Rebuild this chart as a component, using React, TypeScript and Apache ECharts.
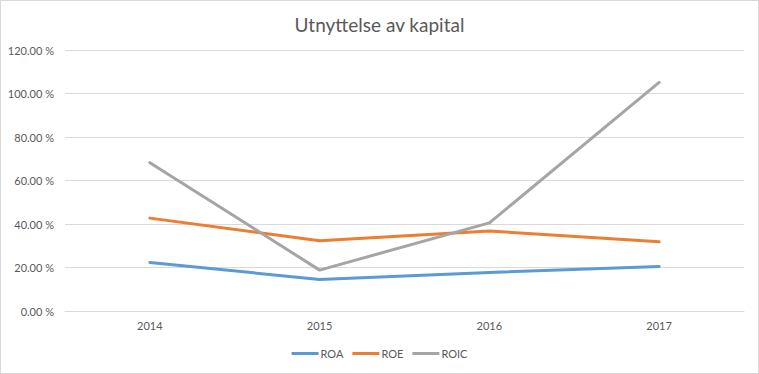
import React, { useEffect, useRef } from "react";
import * as echarts from "echarts";

const title = "Utnyttelse av kapital";
const years = ["2014", "2015", "2016", "2017"];
const roa = [22.3, 14.5, 17.7, 20.5];
const roe = [42.7, 32.3, 36.8, 31.8];
const roic = [68.2, 18.8, 40.5, 105.1];
const seriesNames = ["ROA", "ROE", "ROIC"];
const colors = ["#5B9BD5", "#ED7D31", "#A5A5A5"];

const FONT = "Lato, 'Open Sans', 'Noto Sans', sans-serif";

export default function App() {
  const ref = useRef<HTMLDivElement>(null);
  useEffect(() => {
    document.body.style.margin = "0";
    if (!ref.current) return;
    const chart = echarts.init(ref.current, undefined, { renderer: "svg" });
    const data = [roa, roe, roic];
    chart.setOption({
      animation: false,
      backgroundColor: "#ffffff",
      color: colors,
      title: {
        text: title,
        left: "center",
        top: 9,
        textStyle: {
          fontFamily: FONT,
          fontSize: 19,
          fontWeight: "normal",
          color: "#595959",
        },
      },
      grid: { left: 64, right: 14, top: 49, bottom: 62, containLabel: false },
      legend: {
        bottom: 9,
        left: "center",
        icon: "rect",
        itemWidth: 27,
        itemHeight: 3,
        itemGap: 9,
        textStyle: { fontFamily: FONT, fontSize: 11, color: "#595959", padding: [0, 0, 0, -3] },
        data: seriesNames,
      },
      xAxis: {
        type: "category",
        data: years,
        boundaryGap: true,
        axisLine: { lineStyle: { color: "#d9d9d9", width: 1 } },
        axisTick: { show: false },
        axisLabel: { fontFamily: FONT, fontSize: 11, color: "#595959", margin: 9 },
      },
      yAxis: {
        type: "value",
        min: 0,
        max: 120,
        interval: 20,
        axisLine: { show: false },
        axisTick: { show: false },
        splitLine: { lineStyle: { color: "#d9d9d9", width: 1 } },
        axisLabel: {
          fontFamily: FONT,
          fontSize: 11,
          color: "#595959",
          margin: 11,
          formatter: (v: number) => `${v.toFixed(2)} %`,
        },
      },
      series: seriesNames.map((name, i) => ({
        name,
        type: "line",
        data: data[i],
        showSymbol: false,
        symbol: "none",
        lineStyle: { width: 3, color: colors[i], cap: "round", join: "round" },
        itemStyle: { color: colors[i] },
      })),
    });
    return () => chart.dispose();
  }, []);
  return (
    <div
      style={{
        position: "absolute",
        left: 0,
        top: 0,
        width: 759,
        height: 374,
        border: "1px solid #d9d9d9",
        boxSizing: "border-box",
        background: "#fff",
      }}
    >
      <div ref={ref} style={{ width: 757, height: 372 }} />
    </div>
  );
}
